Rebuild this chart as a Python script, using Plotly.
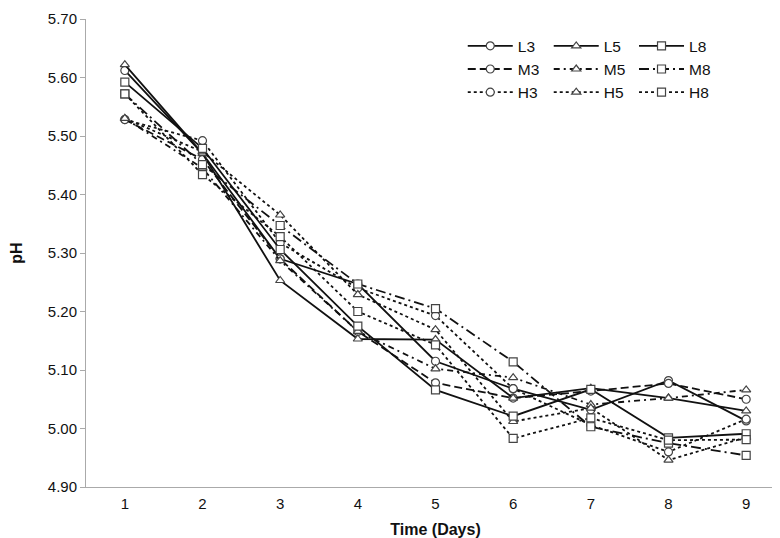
import plotly.graph_objects as go

days = [1, 2, 3, 4, 5, 6, 7, 8, 9]
y_ticks = [4.90, 5.00, 5.10, 5.20, 5.30, 5.40, 5.50, 5.60, 5.70]

L3 = [5.612, 5.470, 5.290, 5.247, 5.115, 5.068, 5.032, 5.082, 5.013]
L5 = [5.622, 5.470, 5.253, 5.153, 5.152, 5.052, 5.069, 5.052, 5.030]
L8 = [5.592, 5.479, 5.306, 5.175, 5.066, 5.021, 5.067, 4.984, 4.991]
M3 = [5.528, 5.460, 5.290, 5.166, 5.078, 5.052, 5.064, 5.077, 5.050]
M5 = [5.530, 5.445, 5.287, 5.166, 5.102, 5.087, 5.041, 5.052, 5.066]
M8 = [5.572, 5.451, 5.347, 5.247, 5.205, 5.114, 5.003, 4.975, 4.954]
H3 = [5.528, 5.492, 5.317, 5.240, 5.193, 5.068, 5.006, 4.960, 5.016]
H5 = [5.530, 5.473, 5.365, 5.229, 5.169, 5.012, 5.035, 4.946, 4.985]
H8 = [5.572, 5.434, 5.328, 5.200, 5.143, 4.983, 5.018, 4.980, 4.981]

series = [
    ("L3", L3, "solid", "circle", "legend"),
    ("M3", M3, "8px,4px", "circle", "legend"),
    ("H3", H3, "dot", "circle", "legend"),
    ("L5", L5, "solid", "triangle-up", "legend2"),
    ("M5", M5, "6px,4px,2px,4px", "triangle-up", "legend2"),
    ("H5", H5, "dot", "triangle-up", "legend2"),
    ("L8", L8, "solid", "square", "legend3"),
    ("M8", M8, "10px,4px,2px,4px", "square", "legend3"),
    ("H8", H8, "dot", "square", "legend3"),
]

fig = go.Figure()
for name, vals, dash, sym, leg in series:
    fig.add_trace(go.Scatter(
        x=days, y=vals, name=name, mode="lines+markers",
        line=dict(color="#111111", width=1.8, dash=dash),
        marker=dict(symbol=sym, size=8, color="white",
                    line=dict(color="#444444", width=1.2)),
        legend=leg,
    ))

font_main = "Liberation Sans, Arial, sans-serif"
leg_common = dict(font=dict(size=15.5, family=font_main, color="#111"),
                  bgcolor="rgba(0,0,0,0)", itemwidth=45,
                  tracegroupgap=0, yanchor="top", xanchor="left",
                  xref="paper", yref="paper")

fig.update_layout(
    width=780, height=538,
    margin=dict(l=78, r=3, t=11, b=59),
    plot_bgcolor="white", paper_bgcolor="white",
    font=dict(family=font_main, size=15, color="#111"),
    showlegend=True,
    legend=dict(x=0.539, y=0.978, **leg_common),
    legend2=dict(x=0.662, y=0.978, **leg_common),
    legend3=dict(x=0.784, y=0.978, **leg_common),
    xaxis=dict(
        range=[0.5, 9.5], tickmode="array", tickvals=days,
        ticktext=[str(d) for d in days],
        showgrid=False, zeroline=False,
        showline=True, linecolor="#aaaaaa", linewidth=1,
        ticks="outside", ticklen=3, tickcolor="rgba(0,0,0,0)",
        tickfont=dict(size=15),
        title=dict(text="<b>Time (Days)</b>", font=dict(size=16), standoff=12),
    ),
    yaxis=dict(
        range=[4.90, 5.70], tickmode="array", tickvals=y_ticks,
        ticktext=[f"{v:.2f}" for v in y_ticks],
        showgrid=False, zeroline=False,
        showline=True, linecolor="#aaaaaa", linewidth=1,
        ticks="outside", ticklen=5, tickcolor="#aaaaaa",
        tickfont=dict(size=15),
        title=dict(text="<b>pH</b>", font=dict(size=16), standoff=25),
    ),
)

fig.write_html("out.html")
